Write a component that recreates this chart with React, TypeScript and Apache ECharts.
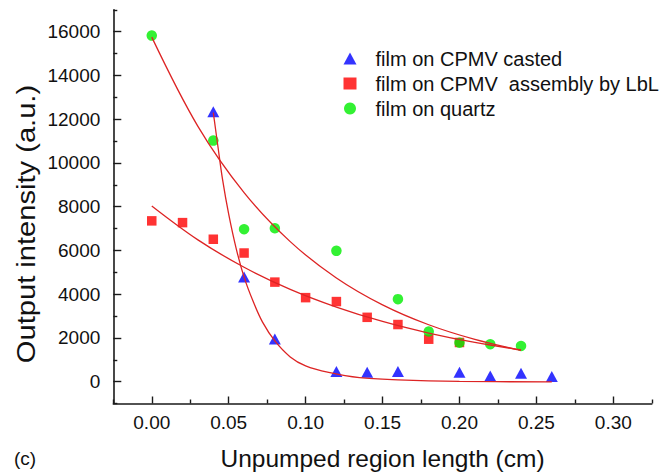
import { useEffect, useRef } from "react";
import * as echarts from "echarts";

// Tick positions and labels
const xTicks = [0, 0.05, 0.1, 0.15, 0.2, 0.25, 0.3];
const xMinorTicks = [-0.025, 0.025, 0.075, 0.125, 0.175, 0.225, 0.275, 0.325];
const yTicks = [0, 2000, 4000, 6000, 8000, 10000, 12000, 14000, 16000];
const yMinorTicks = [-1000, 1000, 3000, 5000, 7000, 9000, 11000, 13000, 15000, 17000];

// Legend names
const nameCasted = "film on CPMV casted";
const nameLbL = "film on CPMV  assembly by LbL";
const nameQuartz = "film on quartz";

// Measured points
const castedX = [0.04, 0.06, 0.08, 0.12, 0.14, 0.16, 0.2, 0.22, 0.24, 0.26];
const castedY = [12340, 4780, 1950, 460, 430, 460, 430, 260, 380, 230];

const lblX = [0, 0.02, 0.04, 0.06, 0.08, 0.1, 0.12, 0.14, 0.16, 0.18, 0.2];
const lblY = [7350, 7270, 6510, 5880, 4550, 3840, 3660, 2940, 2610, 1940, 1790];

const quartzX = [0, 0.04, 0.06, 0.08, 0.12, 0.16, 0.18, 0.2, 0.22, 0.24];
const quartzY = [15820, 11020, 6970, 7010, 5980, 3770, 2290, 1780, 1710, 1630];

// Fitted curves
const castedFitX = [0.04, 0.043, 0.046, 0.05, 0.055, 0.06, 0.066, 0.072, 0.08, 0.09, 0.1, 0.115, 0.135, 0.16, 0.2, 0.26];
const castedFitY = [12300, 10750, 9250, 7660, 6050, 4780, 3650, 2720, 1860, 1130, 720, 420, 180, 80, 10, -10];

const lblFitX = [0, 0.03, 0.06, 0.09, 0.12, 0.15, 0.18, 0.21, 0.24];
const lblFitY = [8030, 6480, 5230, 4220, 3410, 2750, 2220, 1790, 1450];

const quartzFitX = [0, 0.03, 0.06, 0.09, 0.12, 0.15, 0.18, 0.21, 0.24];
const quartzFitY = [15750, 11670, 8640, 6400, 4740, 3510, 2600, 1930, 1430];

const zip = (xs: number[], ys: number[]) => xs.map((x, i) => [x, ys[i]]);

const FONT = "'Liberation Sans', Arial, sans-serif";
const AXIS_COLOR = "#1a1a1a";
const FIT_COLOR = "#dd2424";

const X_MIN = -0.025;
const X_MAX = 0.325;
const Y_MIN = -1000;
const Y_MAX = 17000;

export default function App() {
  const ref = useRef<HTMLDivElement>(null);

  useEffect(() => {
    if (!ref.current) return;
    const chart = echarts.init(ref.current, null, { renderer: "svg" });

    const fitLine = (name: string, data: number[][]) => ({
      name,
      type: "line",
      data,
      xAxisIndex: 0,
      yAxisIndex: 0,
      smooth: 0.35,
      symbol: "none",
      silent: true,
      z: 5,
      lineStyle: { color: FIT_COLOR, width: 1.3 },
    });

    const gridBox = {
      left: 113.3,
      top: 9.8,
      right: 17.2,
      bottom: 69.5,
      outerBoundsMode: "none",
      containLabel: false,
    };

    chart.setOption({
      animation: false,
      backgroundColor: "#ffffff",
      textStyle: { fontFamily: FONT },
      grid: [{ ...gridBox }, { ...gridBox }],
      legend: {
        orient: "vertical",
        left: 343.5,
        top: 48.5,
        padding: 0,
        itemWidth: 13,
        itemHeight: 12,
        itemGap: 5,
        selectedMode: false,
        textStyle: {
          fontFamily: FONT,
          fontSize: 20,
          lineHeight: 19,
          color: "#111",
          padding: [0, 0, 0, 14],
        },
        data: [
          { name: nameCasted, icon: "triangle" },
          { name: nameLbL, icon: "rect" },
          { name: nameQuartz, icon: "circle" },
        ],
      },
      xAxis: [
        {
          type: "value",
          gridIndex: 0,
          min: X_MIN,
          max: X_MAX,
          position: "bottom",
          name: "Unpumped region length (cm)",
          nameLocation: "middle",
          nameGap: 42,
          nameTextStyle: { fontFamily: FONT, fontSize: 24.5, color: "#111" },
          axisLine: { show: true, onZero: false, lineStyle: { color: AXIS_COLOR, width: 1.6 } },
          axisTick: {
            show: true,
            inside: true,
            length: 7,
            customValues: xTicks,
            lineStyle: { color: AXIS_COLOR, width: 1.4 },
          },
          axisLabel: {
            show: true,
            margin: 9,
            customValues: xTicks,
            fontFamily: FONT,
            fontSize: 19,
            color: "#111",
            formatter: (v: number) => v.toFixed(2),
          },
          splitLine: { show: false },
        },
        {
          type: "value",
          gridIndex: 1,
          min: X_MIN,
          max: X_MAX,
          position: "bottom",
          axisLine: { show: false, onZero: false },
          axisTick: {
            show: true,
            inside: true,
            length: 4,
            customValues: xMinorTicks,
            lineStyle: { color: AXIS_COLOR, width: 1.4 },
          },
          axisLabel: { show: false },
          splitLine: { show: false },
        },
      ],
      yAxis: [
        {
          type: "value",
          gridIndex: 0,
          min: Y_MIN,
          max: Y_MAX,
          position: "left",
          axisLine: { show: true, onZero: false, lineStyle: { color: AXIS_COLOR, width: 1.6 } },
          axisTick: {
            show: true,
            inside: true,
            length: 8,
            customValues: yTicks,
            lineStyle: { color: AXIS_COLOR, width: 1.4 },
          },
          axisLabel: {
            show: true,
            margin: 13,
            customValues: yTicks,
            fontFamily: FONT,
            fontSize: 19,
            color: "#111",
            formatter: (v: number) => String(v),
          },
          splitLine: { show: false },
        },
        {
          type: "value",
          gridIndex: 1,
          min: Y_MIN,
          max: Y_MAX,
          position: "left",
          axisLine: { show: false, onZero: false },
          axisTick: {
            show: true,
            inside: true,
            length: 4,
            customValues: yMinorTicks,
            lineStyle: { color: AXIS_COLOR, width: 1.4 },
          },
          axisLabel: { show: false },
          splitLine: { show: false },
        },
      ],
      graphic: [
        {
          type: "text",
          x: 26,
          y: 224,
          rotation: Math.PI / 2,
          scaleX: 1.12,
          style: {
            text: "Output intensity (a.u.)",
            font: `26px ${FONT}`,
            fill: "#111",
            textAlign: "center",
            textVerticalAlign: "middle",
          },
        },
        {
          type: "text",
          left: 14,
          top: 449,
          style: { text: "(c)", font: `19px ${FONT}`, fill: "#111" },
        },
      ],
      series: [
        {
          name: nameCasted,
          type: "scatter",
          data: zip(castedX, castedY),
          symbol: "triangle",
          symbolSize: [12, 11],
          itemStyle: { color: "#0000ff" },
          z: 3,
        },
        {
          name: nameLbL,
          type: "scatter",
          data: zip(lblX, lblY),
          symbol: "rect",
          symbolSize: 9.5,
          itemStyle: { color: "#ff0000" },
          z: 3,
        },
        {
          name: nameQuartz,
          type: "scatter",
          data: zip(quartzX, quartzY),
          symbol: "circle",
          symbolSize: 10.5,
          itemStyle: { color: "#00ee00" },
          z: 4,
        },
        fitLine("fit casted", zip(castedFitX, castedFitY)),
        fitLine("fit LbL", zip(lblFitX, lblFitY)),
        fitLine("fit quartz", zip(quartzFitX, quartzFitY)),
      ],
    });

    return () => chart.dispose();
  }, []);

  return (
    <div
      ref={ref}
      style={{ position: "absolute", left: 0, top: 0, width: 669, height: 473, background: "#fff" }}
    />
  );
}
